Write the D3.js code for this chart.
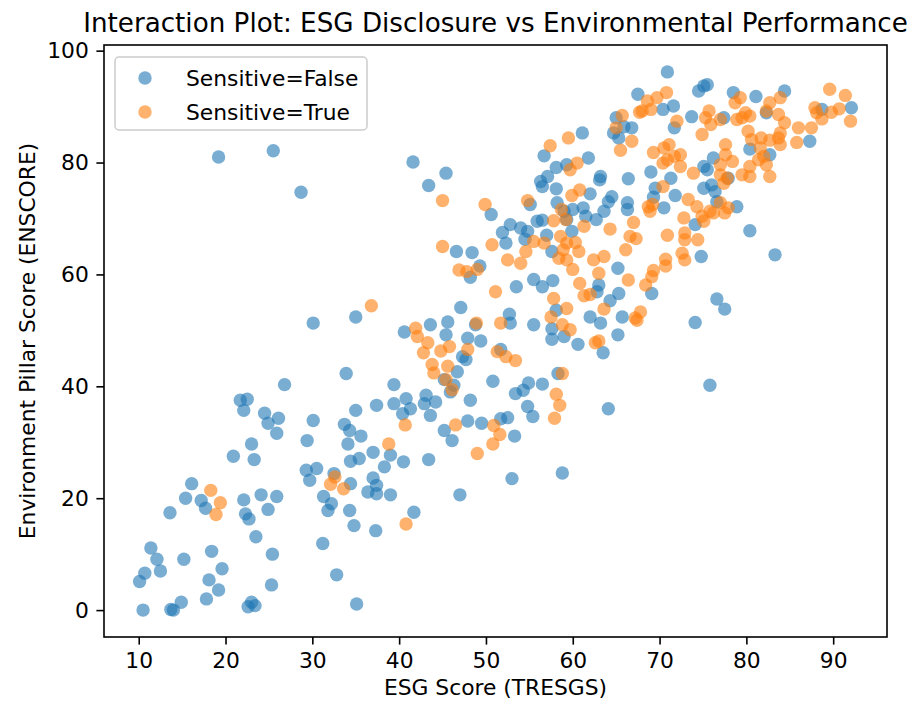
<!DOCTYPE html>
<html>
<head>
<meta charset="utf-8">
<script src="https://cdn.jsdelivr.net/npm/d3@7"></script>
<style>
    body { margin: 0; background: #fff; }
    text { font-family: "DejaVu Sans", sans-serif; }
</style>
</head>
<body>
<div id="chart"></div>
<script>
// [ESG score (TRESGS), environment pillar score (ENSCORE)]
let sensitiveFalse = [
    [19.2,81.0],[25.5,82.1],[28.7,74.7],[30.1,51.3],[40.6,49.7],[35.0,52.4],
    [33.9,42.3],[26.8,40.3],[39.4,40.3],[21.7,37.5],[22.5,37.7],[22.1,35.7],
    [24.5,35.2],[26.1,34.3],[24.9,33.4],[25.9,31.6],[37.4,36.6],[39.4,36.9],
    [35.0,35.7],[30.1,33.9],[29.4,30.3],[33.7,33.2],[34.3,32.1],[35.6,31.1],
    [34.1,29.7],[37.0,28.2],[34.4,26.6],[35.4,27.1],[23.0,29.7],[20.9,27.5],
    [23.3,26.9],[29.3,25.0],[30.5,25.3],[29.7,23.2],[32.5,24.4],[31.3,20.3],
    [32.2,19.0],[31.8,17.8],[34.3,17.8],[34.8,15.1],[37.3,14.2],[34.4,22.6],
    [37.0,23.6],[37.4,22.3],[36.4,21.1],[37.4,20.8],[39.0,20.6],[38.3,25.6],
    [39.0,27.7],[31.2,11.9],[32.8,6.3],[35.1,1.1],[16.1,22.6],[15.4,20.0],
    [17.2,19.6],[17.7,18.2],[13.6,17.4],[22.1,19.7],[24.1,20.6],[25.9,20.3],
    [22.3,17.2],[22.7,16.3],[24.9,18.0],[23.5,13.1],[25.4,10.0],[25.3,4.5],
    [23.0,1.4],[22.6,0.6],[23.4,0.8],[11.4,11.1],[12.1,9.1],[12.5,7.0],
    [10.7,6.6],[10.1,5.1],[10.5,0.0],[14.0,0.0],[13.7,0.1],[14.9,1.4],
    [15.2,9.1],[18.4,10.5],[19.6,7.4],[18.1,5.4],[19.2,3.6],[17.8,2.0],
    [43.6,51.0],[45.6,51.5],[45.4,49.2],[48.8,51.0],[65.2,49.2],[47.9,48.6],
    [49.4,48.1],[47.3,45.3],[47.7,44.8],[46.7,42.6],[46.3,40.2],[45.9,39.0],
    [45.2,41.2],[40.8,37.8],[41.3,36.0],[40.4,35.1],[43.1,38.4],[42.9,36.9],
    [44.2,37.2],[43.6,34.8],[48.2,37.5],[50.8,40.9],[47.9,33.8],[49.5,33.4],
    [45.2,32.1],[46.1,30.3],[51.7,34.2],[52.5,34.4],[53.3,31.1],[53.4,38.7],
    [54.3,39.3],[54.9,40.6],[56.5,40.4],[54.8,36.4],[55.4,34.6],[58.3,42.3],
    [51.7,46.6],[57.6,48.4],[59.0,48.9],[60.6,47.5],[63.5,46.0],[64.1,36.0],
    [58.8,24.5],[53.0,23.5],[47.0,20.6],[43.4,26.9],[41.7,17.5],[40.5,26.5],
    [57.6,50.3],[41.6,80.1],[43.4,75.9],[45.4,78.1],[67.5,92.2],[65.0,88.0],
    [65.9,86.4],[66.8,86.2],[64.7,85.3],[65.3,84.4],[61.1,85.3],[56.7,81.2],
    [61.8,80.8],[58.1,79.1],[59.3,79.6],[56.3,76.6],[56.5,75.7],[57.1,77.5],
    [58.1,75.3],[63.2,77.5],[63.1,76.9],[66.4,77.1],[62.0,74.4],[64.5,73.9],
    [64.1,73.0],[66.3,72.8],[66.3,71.6],[58.2,72.8],[59.0,71.3],[60.0,71.6],
    [61.2,71.9],[61.5,70.4],[63.6,71.3],[62.7,69.8],[50.6,70.7],[52.8,68.9],
    [51.9,67.5],[52.3,65.6],[54.0,68.3],[54.8,67.7],[55.9,69.5],[56.5,69.7],
    [54.5,66.3],[57.0,67.0],[59.3,69.8],[59.9,67.7],[46.6,64.1],[48.4,63.9],
    [49.3,61.5],[48.2,59.5],[57.6,64.1],[55.5,59.1],[56.5,57.8],[57.7,58.9],
    [53.5,57.8],[63.0,58.1],[62.8,56.9],[65.2,61.1],[65.3,56.6],[64.3,55.3],
    [47.1,54.1],[58.1,53.6],[52.7,52.9],[52.8,51.3],[55.5,51.0],[62.0,52.4],
    [63.2,51.3],[65.7,52.4],[70.9,96.2],[70.4,89.5],[71.6,90.1],[71.7,86.2],
    [69.0,78.3],[69.5,75.4],[71.3,77.2],[71.8,74.1],[69.3,73.8],[70.5,71.9],
    [55.1,72.5],[74.5,92.8],[75.1,93.7],[75.5,93.9],[78.5,92.5],[81.1,91.8],
    [84.4,92.8],[73.7,88.2],[77.4,88.0],[82.3,88.9],[92.1,89.8],[88.7,89.5],
    [87.3,83.8],[80.4,82.4],[82.7,81.4],[76.2,80.8],[75.5,78.7],[75.1,79.3],
    [75.1,75.4],[76.0,76.0],[76.4,74.8],[77.9,77.2],[76.6,73.0],[78.9,72.1],
    [74.1,68.9],[80.4,67.8],[83.3,63.5],[74.8,63.2],[69.1,56.6],[76.6,55.6],
    [77.5,53.8],[74.1,51.4],[75.8,40.2]
];
let sensitiveTrue = [
    [18.3,21.4],[19.4,19.2],[18.9,17.1],[32.6,23.8],[32.1,22.5],[33.6,21.7],
    [38.8,29.7],[40.7,33.1],[40.8,15.4],[36.8,54.4],[42.1,48.9],[43.3,47.8],
    [42.8,46.0],[44.8,46.3],[45.8,47.1],[47.9,46.6],[43.8,43.9],[44.0,42.4],
    [45.6,43.6],[45.4,41.2],[46.1,39.4],[51.3,46.2],[52.3,45.3],[53.4,44.6],
    [58.8,42.3],[58.1,38.6],[58.5,36.6],[57.9,34.3],[46.5,33.1],[50.9,33.0],
    [51.6,31.4],[50.8,29.7],[49.0,28.0],[62.6,47.8],[63.0,48.1],[59.5,84.4],
    [57.4,83.0],[65.7,88.4],[65.0,86.2],[66.8,83.8],[65.5,82.2],[67.7,89.0],
    [60.5,79.9],[59.7,78.7],[45.0,73.2],[49.9,72.5],[54.8,73.2],[60.8,75.1],
    [59.9,74.1],[58.7,71.6],[57.8,69.6],[59.2,69.8],[61.3,68.6],[64.3,68.1],
    [67.0,69.3],[66.6,66.8],[66.1,64.4],[67.3,66.4],[45.0,65.0],[50.7,65.3],
    [55.5,65.9],[56.7,65.6],[58.6,66.8],[59.3,65.6],[58.9,64.4],[60.3,65.7],
    [60.7,64.1],[58.4,62.9],[59.3,62.6],[60.0,60.9],[63.6,63.2],[62.4,62.6],
    [63.0,60.2],[52.5,62.6],[54.0,62.0],[54.6,64.1],[46.9,60.8],[47.8,60.5],
    [49.0,60.9],[51.1,56.9],[60.8,58.4],[61.3,56.2],[62.0,56.4],[66.4,59.0],
    [57.8,55.7],[59.3,53.9],[63.6,53.8],[41.9,50.4],[48.9,51.3],[51.7,51.3],
    [57.5,52.4],[58.8,51.0],[59.7,50.1],[67.4,51.8],[70.8,92.5],[69.7,91.6],
    [68.6,91.0],[69.0,89.5],[68.0,89.2],[72.0,87.4],[69.3,81.8],[70.5,82.6],
    [71.1,83.2],[70.9,80.5],[70.4,79.9],[71.7,81.1],[70.4,75.7],[68.7,72.1],
    [69.2,72.5],[68.9,71.3],[89.6,93.1],[91.4,92.0],[92.0,87.4],[87.9,89.8],
    [88.1,88.9],[88.7,87.8],[89.8,89.0],[90.7,89.6],[86.0,86.2],[87.5,86.2],
    [85.8,83.6],[83.9,91.6],[82.7,90.7],[82.3,89.2],[83.7,88.6],[84.4,87.1],
    [83.9,85.3],[83.7,84.4],[83.9,83.2],[82.7,84.0],[79.3,91.6],[78.7,90.7],
    [79.9,88.9],[79.5,88.0],[80.4,88.3],[78.9,87.7],[80.2,85.6],[80.6,84.1],
    [81.7,84.4],[75.7,89.2],[75.3,88.0],[75.9,86.8],[74.9,85.0],[77.0,87.7],
    [77.6,83.2],[77.6,81.4],[78.4,80.2],[77.0,79.6],[77.0,77.8],[77.4,76.3],
    [77.8,77.2],[81.6,82.6],[82.0,81.1],[82.3,79.6],[82.7,77.5],[80.4,79.3],
    [79.5,77.8],[80.4,77.5],[81.4,80.5],[72.4,81.4],[72.4,79.3],[73.9,78.1],
    [73.3,73.4],[74.3,72.1],[72.8,70.1],[74.9,70.4],[75.8,71.3],[77.0,72.8],
    [77.9,71.9],[77.5,71.0],[76.2,71.0],[75.1,69.5],[74.4,66.2],[72.9,67.4],
    [72.9,66.2],[70.9,67.0],[72.6,63.8],[72.9,62.6],[70.7,62.7],[70.7,61.5],
    [69.3,60.7],[69.1,59.6],[68.4,58.1],[67.8,53.3],[67.2,52.2]
];
let seriesNames = ["Sensitive=False", "Sensitive=True"];
let xTicks = [10, 20, 30, 40, 50, 60, 70, 80, 90];
let yTicks = [0, 20, 40, 60, 80, 100];

let width = 910, height = 707;
let margin = {top: 45, right: 23, bottom: 70, left: 104};
let fontSize = 21.8;
let colors = ["#1f77b4", "#ff7f0e"];

let svg = d3.select("#chart").append("svg")
    .attr("width", width)
    .attr("height", height);

// matplotlib style: data range plus 5% on each side
function paddedDomain(values) {
    let ext = d3.extent(values);
    let pad = (ext[1] - ext[0]) * 0.05;
    return [ext[0] - pad, ext[1] + pad];
}
let all = sensitiveFalse.concat(sensitiveTrue);
let x = d3.scaleLinear()
    .domain(paddedDomain(all.map(d => d[0])))
    .range([margin.left, width - margin.right]);
let y = d3.scaleLinear()
    .domain(paddedDomain(all.map(d => d[1])))
    .range([height - margin.bottom, margin.top]);

// points, False first so True sits on top
[sensitiveFalse, sensitiveTrue].forEach(function(series, i) {
    svg.append("g").selectAll("circle")
        .data(series)
        .enter().append("circle")
        .attr("cx", d => x(d[0]))
        .attr("cy", d => y(d[1]))
        .attr("r", 6.7)
        .attr("fill", colors[i])
        .attr("fill-opacity", 0.6);
});

// axes
let xAxis = svg.append("g")
    .attr("transform", "translate(0," + (height - margin.bottom) + ")")
    .call(d3.axisBottom(x).tickValues(xTicks).tickSize(7.6).tickPadding(7.6));
let yAxis = svg.append("g")
    .attr("transform", "translate(" + margin.left + ",0)")
    .call(d3.axisLeft(y).tickValues(yTicks).tickSize(7.6).tickPadding(7.6));
[xAxis, yAxis].forEach(function(g) {
    g.select(".domain").remove();
    g.selectAll(".tick line").attr("stroke", "#000").attr("stroke-width", 1.6);
    g.selectAll(".tick text")
        .attr("fill", "#000")
        .style("font-size", fontSize + "px")
        .style("font-family", "DejaVu Sans, sans-serif");
});

// frame
svg.append("rect")
    .attr("x", margin.left)
    .attr("y", margin.top)
    .attr("width", width - margin.left - margin.right)
    .attr("height", height - margin.top - margin.bottom)
    .attr("fill", "none")
    .attr("stroke", "#000")
    .attr("stroke-width", 1.6);

// titles
let cx = (margin.left + width - margin.right) / 2;
svg.append("text")
    .attr("x", cx)
    .attr("y", 32)
    .attr("text-anchor", "middle")
    .style("font-size", "26.2px")
    .text("Interaction Plot: ESG Disclosure vs Environmental Performance");
svg.append("text")
    .attr("x", cx)
    .attr("y", 695)
    .attr("text-anchor", "middle")
    .style("font-size", fontSize + "px")
    .text("ESG Score (TRESGS)");
svg.append("text")
    .attr("transform", "translate(35," + ((margin.top + height - margin.bottom) / 2) + ") rotate(-90)")
    .attr("text-anchor", "middle")
    .style("font-size", fontSize + "px")
    .text("Environment Pillar Score (ENSCORE)");

// legend
let legend = svg.append("g").attr("transform", "translate(115,57)");
legend.append("rect")
    .attr("width", 252)
    .attr("height", 73)
    .attr("rx", 4)
    .attr("fill", "#fff")
    .attr("fill-opacity", 0.8)
    .attr("stroke", "#ccc")
    .attr("stroke-width", 1.5);
seriesNames.forEach(function(name, i) {
    let row = legend.append("g").attr("transform", "translate(0," + (21 + i * 34) + ")");
    row.append("circle")
        .attr("cx", 30)
        .attr("r", 6.7)
        .attr("fill", colors[i])
        .attr("fill-opacity", 0.6);
    row.append("text")
        .attr("x", 71)
        .attr("dy", "0.35em")
        .style("font-size", fontSize + "px")
        .text(name);
});
</script>
</body>
</html>
